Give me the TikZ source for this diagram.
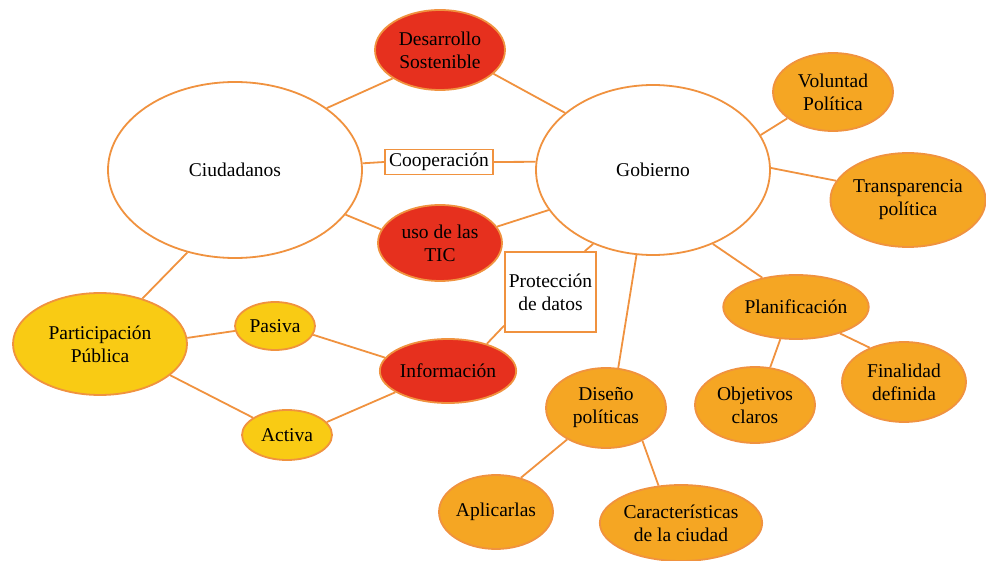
\documentclass[tikz,border=0pt]{standalone}
\usepackage{fontspec}
\setmainfont{LiberationSerif-Regular.ttf}
\usetikzlibrary{shapes.geometric}
\definecolor{edgeor}{HTML}{F0923F}
\definecolor{redfill}{HTML}{E6301E}
\definecolor{orfill}{HTML}{F5A623}
\definecolor{yelfill}{HTML}{F9CB14}
\tikzset{
  x=1pt, y=-1pt,
  every node/.style={font=\fontsize{19.5}{23}\selectfont, align=center, inner sep=0pt},
  bubble/.style={ellipse, draw=edgeor, line width=1.8pt},
  whitebub/.style={bubble, fill=white},
  redbub/.style={bubble, fill=redfill},
  orbub/.style={bubble, fill=orfill},
  yelbub/.style={bubble, fill=yelfill},
  labelbox/.style={rectangle, draw=edgeor, line width=1.8pt, fill=white},
  link/.style={draw=edgeor, line width=1.8pt},
}
\begin{document}
\begin{tikzpicture}
\useasboundingbox (0,0) rectangle (986,561);

% main actors
\node[whitebub, minimum width=254, minimum height=176] (ciud) at (235,170) {Ciudadanos};
\node[whitebub, minimum width=234, minimum height=170] (gob) at (653,170) {Gobierno};

% shared topics
\node[redbub, minimum width=130, minimum height=80] (des) at (440,50) {Desarrollo\\Sostenible};
\node[labelbox, minimum width=108, minimum height=25] (coop) at (439,162) {Cooperación};
\node[redbub, minimum width=124, minimum height=76] (tic) at (440,243) {uso de las\\TIC};
\node[labelbox, minimum width=91, minimum height=80] (prot) at (550.5,292) {Protección\\de datos};
\node[redbub, minimum width=136, minimum height=64] (info) at (448,371) {Información};

% government branch
\node[orbub, minimum width=120, minimum height=78] (vol) at (833,92) {Voluntad\\Política};
\node[orbub, minimum width=152, minimum height=94] (trans) at (908,200) {Transparencia\\política};
\node[orbub, minimum width=134, minimum height=64] (plan) at (796,307) {Planificación};
\node[orbub, minimum width=120, minimum height=76] (obj) at (755,405) {Objetivos\\claros};
\node[orbub, minimum width=124, minimum height=80] (fin) at (904,382) {Finalidad\\definida};
\node[orbub, minimum width=120, minimum height=80] (dis) at (606,408) {Diseño\\políticas};
\node[orbub, minimum width=114, minimum height=74] (apl) at (496,512) {Aplicarlas};
\node[orbub, minimum width=158, minimum height=76] (car) at (681,523) {Características\\de la ciudad};

% citizen branch
\node[yelbub, minimum width=174, minimum height=102] (part) at (100,344) {Participación\\Pública};
\node[yelbub, minimum width=80, minimum height=48] (pas) at (275,326) {Pasiva};
\node[yelbub, minimum width=90, minimum height=50] (act) at (287,435) {Activa};

% connectors
\draw[link] (ciud.34) -- (des.211);
\draw[link] (des.-24) -- (gob.147);
\draw[link] (ciud.3.6) -- (coop.west);
\draw[link] (coop.east) -- (gob.176);
\draw[link] (ciud.-22) -- (tic.167);
\draw[link] (tic.16) -- (gob.201);
\draw[link] (gob.231) -- (prot.50);
\draw[link] (prot.216) -- (info.35);
\draw[link] (gob.18) -- (vol.210);
\draw[link] (gob.1) -- (trans.165);
\draw[link] (gob.-51) -- (plan.139);
\draw[link] (gob.259) -- (dis.73);
\draw[link] (plan.244) -- (obj.68);
\draw[link] (plan.-31) -- (fin.135);
\draw[link] (dis.219) -- (apl.54);
\draw[link] (dis.-42) -- (car.121);
\draw[link] (ciud.240) -- (part.47);
\draw[link] (part.4.5) -- (pas.187);
\draw[link] (part.-24) -- (act.153);
\draw[link] (pas.-13) -- (info.168);
\draw[link] (act.18) -- (info.202);
\end{tikzpicture}
\end{document}
